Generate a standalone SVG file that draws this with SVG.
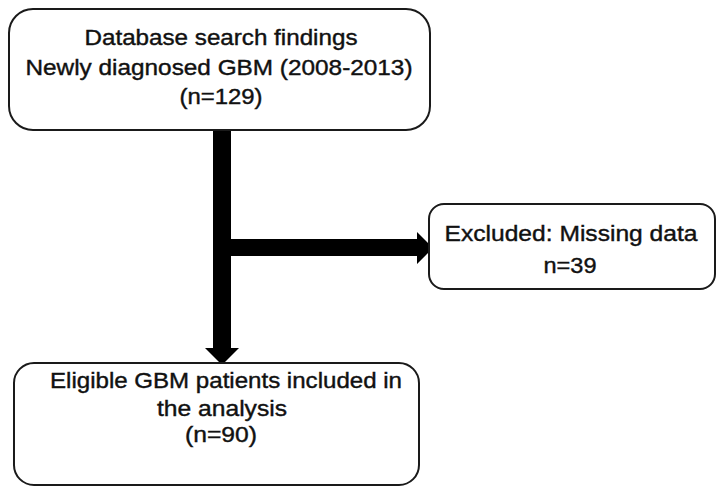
<svg xmlns="http://www.w3.org/2000/svg" width="724" height="495" viewBox="0 0 724 495">
<style>
.box{fill:#fff;stroke:#1a1a1a;stroke-width:2}
.t{font-family:"Liberation Sans",Arial,sans-serif;font-size:22px;fill:#111;stroke:#111;stroke-width:0.4;text-anchor:middle}
.arr{fill:#000}
</style>
<rect width="724" height="495" fill="#fff"/>
<g id="connectors">
<polygon class="arr" points="213,130 231,130 231,348 239,348 222,365 205,348 213,348"/>
<polygon class="arr" points="231,239 417,239 417,232 433,248 417,264 417,256 231,256"/>
</g>
<g id="node-search">
<rect class="box" x="9" y="9" width="421" height="121" rx="24"/>
<text class="t" x="221" y="45" textLength="273" lengthAdjust="spacingAndGlyphs">Database search findings</text>
<text class="t" x="219" y="75" textLength="387" lengthAdjust="spacingAndGlyphs">Newly diagnosed GBM (2008-2013)</text>
<text class="t" x="221" y="104" textLength="83" lengthAdjust="spacingAndGlyphs">(n=129)</text>
</g>
<g id="node-excluded">
<rect class="box" x="429" y="204" width="286" height="85" rx="15"/>
<text class="t" x="571" y="241" textLength="253" lengthAdjust="spacingAndGlyphs">Excluded: Missing data</text>
<text class="t" x="570" y="273" textLength="53" lengthAdjust="spacingAndGlyphs">n=39</text>
</g>
<g id="node-eligible">
<rect class="box" x="14" y="363" width="405" height="122" rx="20"/>
<text class="t" x="226" y="388" textLength="352" lengthAdjust="spacingAndGlyphs">Eligible GBM patients included in</text>
<text class="t" x="222" y="416" textLength="130" lengthAdjust="spacingAndGlyphs">the analysis</text>
<text class="t" x="221" y="442" textLength="72" lengthAdjust="spacingAndGlyphs">(n=90)</text>
</g>
</svg>
